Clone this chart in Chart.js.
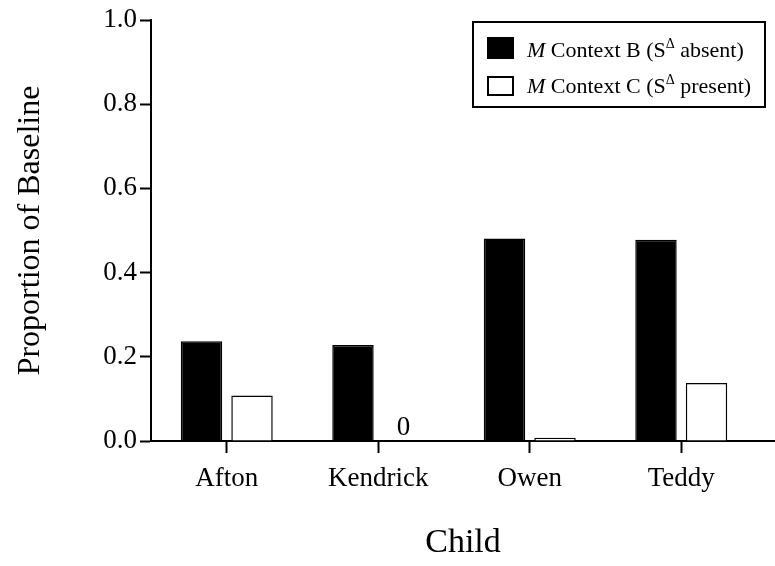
<!DOCTYPE html>
<html>
<head>
<meta charset="utf-8">
<script src="https://cdn.jsdelivr.net/npm/chart.js@4.4.1/dist/chart.umd.min.js"></script>
<style>
  html, body { margin: 0; padding: 0; background: #fff; }
  canvas { display: block; }
</style>
</head>
<body>
<canvas id="proportionChart" width="775" height="566"></canvas>
<script>
const children = ['Afton', 'Kendrick', 'Owen', 'Teddy'];
const contextB = [0.237, 0.228, 0.481, 0.478];
const contextC = [0.108, 0, 0.008, 0.138];
const yTicks = [0, 0.2, 0.4, 0.6, 0.8, 1.0];
const seriesNames = ['M Context B (S\u0394 absent)', 'M Context C (S\u0394 present)'];
// legend text split so the M can be italic and the delta raised
const legendParts = [
    ['M', ' Context B (S', '\u0394', ' absent)'],
    ['M', ' Context C (S', '\u0394', ' present)'],
];
const xTitle = 'Child';
const yTitle = 'Proportion of Baseline';

const serif = '"Liberation Serif", "Times New Roman", serif';

// draws the legend box, the x title, the "0" note and the long x axis line
const extras = {
    id: 'extras',
    afterDraw(chart) {
        const { ctx, chartArea, scales } = chart;
        const base = scales.y.getPixelForValue(0);
        ctx.save();
        ctx.strokeStyle = '#000';
        ctx.fillStyle = '#000';

        ctx.lineWidth = 2;
        ctx.beginPath();
        ctx.moveTo(chartArea.right - 1, base);
        ctx.lineTo(chart.width, base);
        ctx.stroke();

        ctx.font = '34px ' + serif;
        ctx.textAlign = 'center';
        ctx.textBaseline = 'middle';
        ctx.fillText(xTitle, (chartArea.left + chart.width) / 2, 543);

        // zero value note above empty bars
        const meta = chart.getDatasetMeta(1);
        ctx.font = '27px ' + serif;
        ctx.textBaseline = 'alphabetic';
        contextC.forEach((v, i) => {
            if (v === 0) ctx.fillText('0', meta.data[i].x, base - 6);
        });

        // legend
        ctx.lineWidth = 2;
        ctx.strokeRect(473, 22, 292, 85);
        const rows = [
            { sy: 37, sh: 22, base: 57, fill: '#000' },
            { sy: 76, sh: 20, base: 93, fill: '#fff' },
        ];
        ctx.textAlign = 'left';
        rows.forEach((r, i) => {
            ctx.fillStyle = r.fill;
            ctx.fillRect(487, r.sy, 27, r.sh);
            ctx.lineWidth = 2;
            ctx.strokeRect(488, r.sy + 1, 25, r.sh - 2);
            ctx.fillStyle = '#000';
            const p = legendParts[i];
            let x = 527;
            ctx.font = 'italic 22px ' + serif;
            ctx.fillText(p[0], x, r.base);
            x += ctx.measureText(p[0]).width;
            ctx.font = '22px ' + serif;
            ctx.fillText(p[1], x, r.base);
            x += ctx.measureText(p[1]).width;
            ctx.font = '14px ' + serif;
            ctx.fillText(p[2], x, r.base - 9);
            x += ctx.measureText(p[2]).width;
            ctx.font = '22px ' + serif;
            ctx.fillText(p[3], x, r.base);
        });
        ctx.restore();
    },
};

const chart = new Chart(document.getElementById('proportionChart'), {
    type: 'bar',
    data: {
        labels: children,
        datasets: [
            {
                label: seriesNames[0],
                data: contextB,
                backgroundColor: '#000',
                borderColor: '#000',
                borderWidth: 1.5,
            },
            {
                label: seriesNames[1],
                data: contextC,
                backgroundColor: '#fff',
                borderColor: '#000',
                borderWidth: 1.5,
            },
        ],
    },
    options: {
        responsive: false,
        animation: false,
        devicePixelRatio: 1,
        categoryPercentage: 0.667,
        barPercentage: 0.82,
        layout: { padding: { top: 20, right: 18, left: 0, bottom: 0 } },
        plugins: {
            legend: { display: false },
            tooltip: { enabled: false },
        },
        scales: {
            x: {
                offset: true,
                grid: {
                    offset: false,
                    drawOnChartArea: false,
                    tickLength: 12,
                    tickWidth: 2,
                    tickColor: '#000',
                    color: '#000',
                },
                border: { color: '#000', width: 2 },
                ticks: { color: '#000', font: { family: serif, size: 27 }, padding: 10 },
                afterFit(scale) { scale.height = 125; },
            },
            y: {
                min: 0,
                max: 1,
                afterBuildTicks(scale) { scale.ticks = yTicks.map(v => ({ value: v })); },
                ticks: {
                    color: '#000',
                    font: { family: serif, size: 27 },
                    padding: 3,
                    callback: v => v.toFixed(1),
                },
                grid: {
                    drawOnChartArea: false,
                    tickLength: 11,
                    tickWidth: 2,
                    tickColor: '#000',
                    color: '#000',
                },
                border: { color: '#000', width: 2 },
                title: {
                    display: true,
                    text: yTitle,
                    color: '#000',
                    font: { family: serif, size: 32 },
                    padding: { top: 11 },
                },
                afterFit(scale) { scale.width = 151; },
            },
        },
    },
    plugins: [extras],
});
</script>
</body>
</html>
